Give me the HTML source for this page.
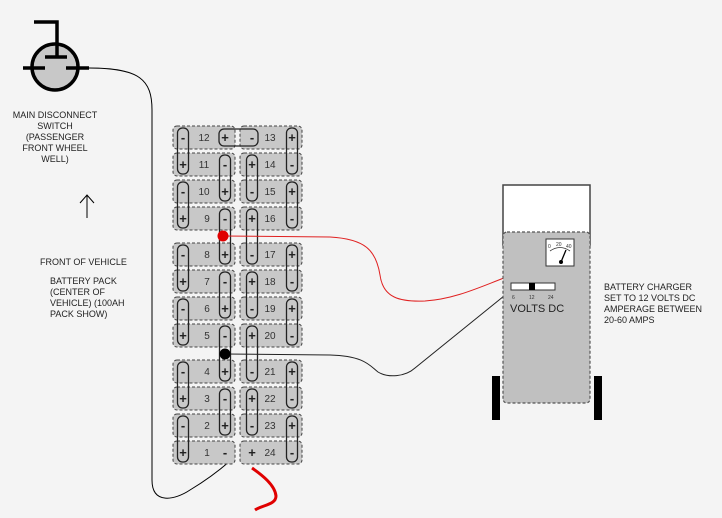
<!DOCTYPE html>
<html><head><style>html,body{margin:0;padding:0;background:#f4f4f4}svg{display:block}text{font-family:"Liberation Sans",sans-serif}</style></head>
<body>
<svg width="722" height="518" viewBox="0 0 722 518" xmlns="http://www.w3.org/2000/svg">
<rect width="722" height="518" fill="#f4f4f4"/>
<!-- switch -->
<circle cx="55" cy="67" r="23" fill="#c8c8c8" stroke="#000" stroke-width="3.5"/>
<path d="M34 22 H57 V57 M45 57 H67 M23 68 H45 M66 68 H89" stroke="#000" stroke-width="3.5" fill="none"/>
<g font-size="9" fill="#222" text-anchor="middle">
<text x="55" y="118">MAIN DISCONNECT</text><text x="55" y="129">SWITCH</text><text x="55" y="140">(PASSENGER</text><text x="55" y="151">FRONT WHEEL</text><text x="55" y="162">WELL)</text>
</g>
<path d="M87 218 V195 M80 203 L87 195 L94 203" stroke="#000" stroke-width="1" fill="none"/>
<g font-size="9" fill="#222">
<text x="40" y="265">FRONT OF VEHICLE</text>
<text x="50" y="284">BATTERY PACK</text><text x="50" y="295">(CENTER OF</text><text x="50" y="306">VEHICLE) (100AH</text><text x="50" y="317">PACK SHOW)</text>
</g>
<!-- wire switch to pack -->
<path d="M89 68 C140 68 152 80 152 110 L152 480 C152 505 175 500 190 490 C210 478 222 468 230 461" stroke="#000" stroke-width="1" fill="none"/>
<!-- batteries -->
<g fill="#c8c8c8" stroke="#444" stroke-width="1" stroke-dasharray="3,2">
<rect x="173" y="126" width="62" height="23" rx="4"/><rect x="240" y="126" width="62" height="23" rx="4"/>
<rect x="173" y="153" width="62" height="23" rx="4"/><rect x="240" y="153" width="62" height="23" rx="4"/>
<rect x="173" y="180" width="62" height="23" rx="4"/><rect x="240" y="180" width="62" height="23" rx="4"/>
<rect x="173" y="207" width="62" height="23" rx="4"/><rect x="240" y="207" width="62" height="23" rx="4"/>
<rect x="173" y="243" width="62" height="23" rx="4"/><rect x="240" y="243" width="62" height="23" rx="4"/>
<rect x="173" y="270" width="62" height="23" rx="4"/><rect x="240" y="270" width="62" height="23" rx="4"/>
<rect x="173" y="297" width="62" height="23" rx="4"/><rect x="240" y="297" width="62" height="23" rx="4"/>
<rect x="173" y="324" width="62" height="23" rx="4"/><rect x="240" y="324" width="62" height="23" rx="4"/>
<rect x="173" y="360" width="62" height="23" rx="4"/><rect x="240" y="360" width="62" height="23" rx="4"/>
<rect x="173" y="387" width="62" height="23" rx="4"/><rect x="240" y="387" width="62" height="23" rx="4"/>
<rect x="173" y="414" width="62" height="23" rx="4"/><rect x="240" y="414" width="62" height="23" rx="4"/>
<rect x="173" y="441" width="62" height="23" rx="4"/><rect x="240" y="441" width="62" height="23" rx="4"/>
</g>
<!-- pills -->
<g fill="none" stroke="#222" stroke-width="1.3">
<rect x="219" y="129" width="39" height="17" rx="5"/>
<!-- L1 -->
<rect x="177.5" y="128" width="11" height="46" rx="5"/><rect x="177.5" y="182" width="11" height="46" rx="5"/>
<rect x="177.5" y="245" width="11" height="46" rx="5"/><rect x="177.5" y="299" width="11" height="46" rx="5"/>
<rect x="177.5" y="362" width="11" height="46" rx="5"/><rect x="177.5" y="416" width="11" height="46" rx="5"/>
<!-- L2 -->
<rect x="219.5" y="155" width="11" height="46" rx="5"/><rect x="219.5" y="209" width="11" height="55" rx="5"/>
<rect x="219.5" y="272" width="11" height="46" rx="5"/><rect x="219.5" y="326" width="11" height="55" rx="5"/>
<rect x="219.5" y="389" width="11" height="46" rx="5"/>
<!-- R1 -->
<rect x="246.5" y="155" width="11" height="46" rx="5"/><rect x="246.5" y="209" width="11" height="55" rx="5"/>
<rect x="246.5" y="272" width="11" height="46" rx="5"/><rect x="246.5" y="326" width="11" height="55" rx="5"/>
<rect x="246.5" y="389" width="11" height="46" rx="5"/>
<!-- R2 -->
<rect x="286.5" y="128" width="11" height="46" rx="5"/><rect x="286.5" y="182" width="11" height="46" rx="5"/>
<rect x="286.5" y="245" width="11" height="46" rx="5"/><rect x="286.5" y="299" width="11" height="46" rx="5"/>
<rect x="286.5" y="362" width="11" height="46" rx="5"/><rect x="286.5" y="416" width="11" height="46" rx="5"/>
</g>
<g font-size="13" font-weight="bold" fill="#222" text-anchor="middle">
<text x="183" y="142">-</text><text x="225" y="142">+</text><text x="252" y="142">-</text><text x="292" y="142">+</text>
<text x="183" y="169">+</text><text x="225" y="169">-</text><text x="252" y="169">+</text><text x="292" y="169">-</text>
<text x="183" y="196">-</text><text x="225" y="196">+</text><text x="252" y="196">-</text><text x="292" y="196">+</text>
<text x="183" y="223">+</text><text x="225" y="223">-</text><text x="252" y="223">+</text><text x="292" y="223">-</text>
<text x="183" y="259">-</text><text x="225" y="259">+</text><text x="252" y="259">-</text><text x="292" y="259">+</text>
<text x="183" y="286">+</text><text x="225" y="286">-</text><text x="252" y="286">+</text><text x="292" y="286">-</text>
<text x="183" y="313">-</text><text x="225" y="313">+</text><text x="252" y="313">-</text><text x="292" y="313">+</text>
<text x="183" y="340">+</text><text x="225" y="340">-</text><text x="252" y="340">+</text><text x="292" y="340">-</text>
<text x="183" y="376">-</text><text x="225" y="376">+</text><text x="252" y="376">-</text><text x="292" y="376">+</text>
<text x="183" y="403">+</text><text x="225" y="403">-</text><text x="252" y="403">+</text><text x="292" y="403">-</text>
<text x="183" y="430">-</text><text x="225" y="430">+</text><text x="252" y="430">-</text><text x="292" y="430">+</text>
<text x="183" y="457">+</text><text x="225" y="457">-</text><text x="252" y="457">+</text><text x="292" y="457">-</text>
</g>
<g font-size="10" fill="#333" text-anchor="middle">
<text x="204" y="141">12</text><text x="270" y="141">13</text>
<text x="204" y="168">11</text><text x="270" y="168">14</text>
<text x="204" y="195">10</text><text x="270" y="195">15</text>
<text x="207" y="222">9</text><text x="270" y="222">16</text>
<text x="207" y="258">8</text><text x="270" y="258">17</text>
<text x="207" y="285">7</text><text x="270" y="285">18</text>
<text x="207" y="312">6</text><text x="270" y="312">19</text>
<text x="207" y="339">5</text><text x="270" y="339">20</text>
<text x="207" y="375">4</text><text x="270" y="375">21</text>
<text x="207" y="402">3</text><text x="270" y="402">22</text>
<text x="207" y="429">2</text><text x="270" y="429">23</text>
<text x="207" y="456">1</text><text x="270" y="456">24</text>
</g>
<!-- wires -->
<path d="M223 236 L330 237 C365 239 376 250 380 275 C383 298 400 302 425 301 C455 299 480 287 504 278" stroke="#e02020" stroke-width="1" fill="none"/>
<circle cx="223" cy="236" r="5.5" fill="#e00000"/>
<path d="M225 354 L330 355 C365 356 370 366 378 372 C388 378 405 377 415 368 L504 296" stroke="#222" stroke-width="1" fill="none"/>
<circle cx="225" cy="354" r="5.5" fill="#000"/>
<path d="M252 468 C262 475 275 485 276 496 C276 505 262 505 255 510" stroke="#e00000" stroke-width="3" fill="none"/>
<!-- charger -->
<rect x="503" y="185" width="87" height="60" fill="#fff" stroke="#444" stroke-width="1.5"/>
<rect x="503" y="232" width="87" height="171" rx="4" fill="#c0c0c0" stroke="#555" stroke-width="1.2" stroke-dasharray="3,2"/>
<rect x="492" y="376" width="8" height="44" fill="#000"/>
<rect x="594" y="376" width="8" height="44" fill="#000"/>
<rect x="546" y="239" width="28" height="27" fill="#fff" stroke="#333" stroke-width="1"/>
<path d="M550 251 Q560 244 570 251" stroke="#333" stroke-width="0.8" fill="none"/>
<path d="M561 262 L566 250" stroke="#000" stroke-width="1.3"/>
<circle cx="561" cy="262" r="2" fill="#000"/>
<g font-size="5" fill="#333"><text x="548" y="248">0</text><text x="556" y="246">20</text><text x="566" y="248">40</text></g>
<rect x="511" y="283" width="44" height="7" fill="#fff" stroke="#333" stroke-width="1"/>
<rect x="529" y="283" width="6" height="7" fill="#000"/>
<g font-size="5" fill="#333"><text x="512" y="299">6</text><text x="529" y="299">12</text><text x="548" y="299">24</text></g>
<text x="510" y="312" font-size="11" fill="#222">VOLTS DC</text>
<g font-size="9" fill="#222">
<text x="604" y="290">BATTERY CHARGER</text><text x="604" y="301">SET TO 12 VOLTS DC</text><text x="604" y="312">AMPERAGE BETWEEN</text><text x="604" y="323">20-60 AMPS</text>
</g>
</svg>
</body></html>
